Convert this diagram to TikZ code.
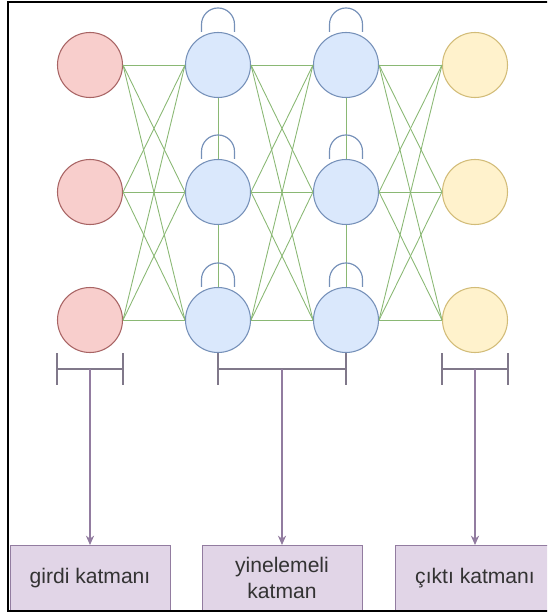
\documentclass[tikz,border=0pt]{standalone}
\usepackage{fontspec}
\setmainfont{Liberation Sans}
\usetikzlibrary{positioning,arrows.meta}

\definecolor{infill}{HTML}{F8CECC}
\definecolor{inline}{HTML}{A86464}
\definecolor{hidfill}{HTML}{DAE8FC}
\definecolor{hidline}{HTML}{7590B8}
\definecolor{outfill}{HTML}{FFF2CC}
\definecolor{outline}{HTML}{D2BC78}
\definecolor{linkgreen}{HTML}{8AB874}
\definecolor{boxfill}{HTML}{E1D5E7}
\definecolor{boxline}{HTML}{927CA0}
\definecolor{bracegray}{HTML}{80788A}
\definecolor{textgray}{HTML}{333333}

\tikzset{
  neuron/.style={circle, minimum size=1.95cm, inner sep=0pt, line width=0.9pt},
  innode/.style={neuron, draw=inline, fill=infill},
  hidnode/.style={neuron, draw=hidline, fill=hidfill},
  outnode/.style={neuron, draw=outline, fill=outfill},
  link/.style={draw=linkgreen, line width=0.75pt},
  selfloop/.style={draw=hidline, line width=1pt},
  brace/.style={draw=bracegray, line width=1pt},
  layerarrow/.style={draw=boxline, line width=1pt, -{Stealth[length=8pt,width=7pt]}},
  layerbox/.style={draw=boxline, fill=boxfill, line width=0.8pt, minimum width=4.8cm,
    minimum height=1.95cm, align=center, text=textgray,
    font=\fontsize{18}{23}\selectfont},
}

\begin{document}
\begin{tikzpicture}[x=0.03cm, y=-0.03cm]

\useasboundingbox (0,0) rectangle (547,614);
\clip (0,0) rectangle (547,614);

% ======================================
% THE NEURONS
% ======================================
\node[innode] (in1) at (90,65) {};
\node[innode] (in2) at (90,192) {};
\node[innode] (in3) at (90,320) {};

\node[hidnode] (ha1) at (218,65) {};
\node[hidnode] (ha2) at (218,192) {};
\node[hidnode] (ha3) at (218,320) {};

\node[hidnode] (hb1) at (346,65) {};
\node[hidnode] (hb2) at (346,192) {};
\node[hidnode] (hb3) at (346,320) {};

\node[outnode] (out1) at (475,65) {};
\node[outnode] (out2) at (475,192) {};
\node[outnode] (out3) at (475,320) {};

% ======================================
% GREEN LINKS BETWEEN THE LAYERS
% ======================================
\foreach \i in {1,2,3} {
  \foreach \j in {1,2,3} {
    \draw[link] (in\i.east) -- (ha\j.west);
    \draw[link] (ha\i.east) -- (hb\j.west);
    \draw[link] (hb\i.east) -- (out\j.west);
  }
}
\draw[link] (ha1) -- (ha2);
\draw[link] (ha2) -- (ha3);
\draw[link] (hb1) -- (hb2);
\draw[link] (hb2) -- (hb3);

% ======================================
% RECURRENT LOOPS
% ======================================
\foreach \c in {ha,hb} {
  \foreach \r in {1,2,3} {
    \draw[selfloop] ([xshift=-0.495cm]\c\r.north) -- ++(0,-7.5)
      arc (180:0:0.495cm) -- ++(0,7.5);
  }
}

% ======================================
% BRACKETS UNDER THE LAYERS
% ======================================
\coordinate (inbrace) at (in3.south |- 0,369);
\coordinate (hidbrace) at (282,369);
\coordinate (outbrace) at (out3.south |- 0,369);

\draw[brace] (in3.west |- in3.south) -- ++(0,32);
\draw[brace] (in3.east |- in3.south) -- ++(0,32);
\draw[brace] (in3.west |- inbrace) -- (in3.east |- inbrace);

\draw[brace] (ha3.south) -- ++(0,32);
\draw[brace] (hb3.south) -- ++(0,32);
\draw[brace] (ha3.south |- hidbrace) -- (hb3.south |- hidbrace);

\draw[brace] (out3.west |- out3.south) -- ++(0,32);
\draw[brace] (out3.east |- out3.south) -- ++(0,32);
\draw[brace] (out3.west |- outbrace) -- (out3.east |- outbrace);

% ======================================
% LAYER BOXES
% ======================================
\node[layerbox, below=5.28cm of inbrace] (inbox) {girdi katmanı};
\node[layerbox, below=5.28cm of hidbrace] (hidbox) {yinelemeli\\katman};
\node[layerbox, below=5.28cm of outbrace] (outbox) {çıktı katmanı};

\draw[layerarrow] (inbrace) -- (inbox);
\draw[layerarrow] (hidbrace) -- (hidbox);
\draw[layerarrow] (outbrace) -- (outbox);

% frame
\draw[line width=1.6pt] (8,2) rectangle (570,611);

\end{tikzpicture}
\end{document}
